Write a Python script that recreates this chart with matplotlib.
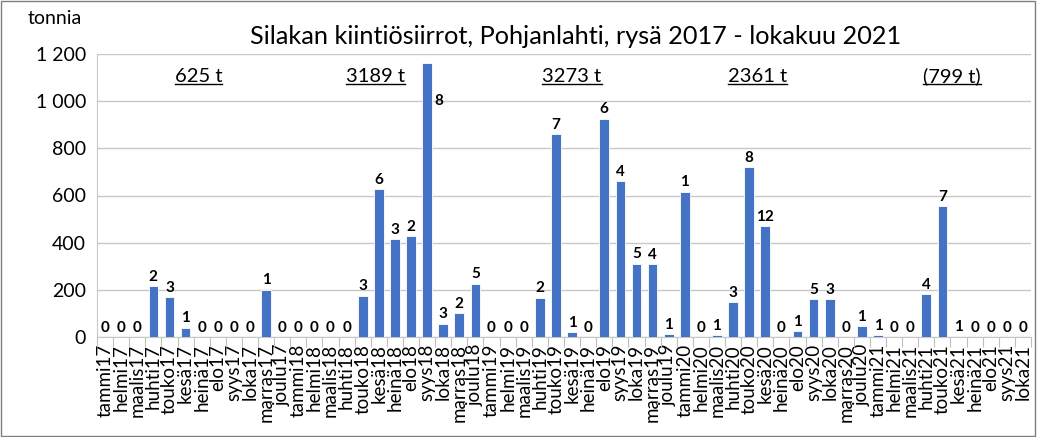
import matplotlib
matplotlib.use("Agg")
from matplotlib import pyplot as plt
from matplotlib.patches import Rectangle
from matplotlib.lines import Line2D

plt.rcParams['font.family'] = ['Lato', 'DejaVu Sans']

months = ['tammi', 'helmi', 'maalis', 'huhti', 'touko', 'kesä',
          'heinä', 'elo', 'syys', 'loka', 'marras', 'joulu']
labels = [m + y for y in ['17', '18', '19', '20'] for m in months] + \
         [m + '21' for m in months[:10]]

tonnes = [0, 0, 0, 216, 170, 39, 0, 0, 0, 0, 200, 0,
          0, 0, 0, 0, 175, 627, 415, 428, 1160, 56, 102, 226,
          0, 0, 0, 166, 861, 21, 0, 926, 661, 311, 310, 13,
          616, 0, 8, 149, 721, 471, 0, 25, 161, 161, 0, 47,
          8, 0, 0, 182, 555, 4, 0, 0, 0, 0]
counts = [0, 0, 0, 2, 3, 1, 0, 0, 0, 0, 1, 0,
          0, 0, 0, 0, 3, 6, 3, 2, 8, 3, 2, 5,
          0, 0, 0, 2, 7, 1, 0, 6, 4, 5, 4, 1,
          1, 0, 1, 3, 8, 12, 0, 1, 5, 3, 0, 1,
          1, 0, 0, 4, 7, 1, 0, 0, 0, 0]
year_totals = ['625 t', '3189 t', '3273 t', '2361 t', '(799 t)']
year_total_x = [5.8, 16.8, 29.0, 40.5, 52.6]

W, H = 1037, 437
fig = plt.figure(figsize=(W / 100, H / 100), dpi=100)
ax = fig.add_axes([97 / W, (H - 337) / H, (1031 - 97) / W, (337 - 54) / H])

x = list(range(len(labels)))
ax.bar(x, tonnes, width=0.6, color='#4472C4', edgecolor='#ffffff',
       linewidth=0.6, zorder=3)

for xi, v, c in zip(x, tonnes, counts):
    if v > 1100:
        ax.text(xi + 0.45, 1000, str(c), ha='left', va='center',
                fontsize=11, fontweight='bold', zorder=4)
    else:
        ax.text(xi, v + 10, str(c), ha='center', va='bottom',
                fontsize=11, fontweight='bold', zorder=4)

ax.set_xlim(-0.5, len(labels) - 0.5)
ax.set_ylim(0, 1200)
ax.set_yticks(range(0, 1201, 200))
ax.set_yticklabels([f'{v:,}'.replace(',', ' ') for v in range(0, 1201, 200)],
                   fontsize=14)
ax.set_xticks(x)
ax.set_xticklabels(labels, rotation=90, fontsize=13.5)
ax.set_xticks([i - 0.5 for i in range(len(labels) + 1)], minor=True)
ax.tick_params(axis='x', which='major', length=0, pad=5)
ax.tick_params(axis='x', which='minor', length=7, color='#bfbfbf', width=0.8)
ax.tick_params(axis='y', length=0, pad=8)

ax.grid(axis='y', color='#c8c8c8', linewidth=1, zorder=0)
for s in ['top', 'right']:
    ax.spines[s].set_visible(False)
ax.spines['left'].set_color('#c8c8c8')
ax.spines['bottom'].set_color('#c8c8c8')

fig.text(576 / W, 1 - 36 / H, 'Silakan kiintiösiirrot, Pohjanlahti, rysä 2017 - lokakuu 2021',
         ha='center', va='center', fontsize=18.2)
fig.text(55 / W, 1 - 18 / H, 'tonnia', ha='center', va='center', fontsize=14)

texts = []
for tx, tt in zip(year_total_x, year_totals):
    texts.append(ax.text(tx, 1105, tt, ha='center', va='center', fontsize=14.5))

fig.canvas.draw()
renderer = fig.canvas.get_renderer()
for t in texts:
    bb = t.get_window_extent(renderer)
    y = bb.y0 + 1
    fig.add_artist(Line2D([bb.x0 / W, bb.x1 / W], [y / H, y / H],
                          color='black', linewidth=1.0))

fig.add_artist(Rectangle((0.001, 0.002), 0.997, 0.995, transform=fig.transFigure,
                         fill=False, edgecolor='#7f7f7f', linewidth=1))

fig.savefig('out.png', dpi=100)
